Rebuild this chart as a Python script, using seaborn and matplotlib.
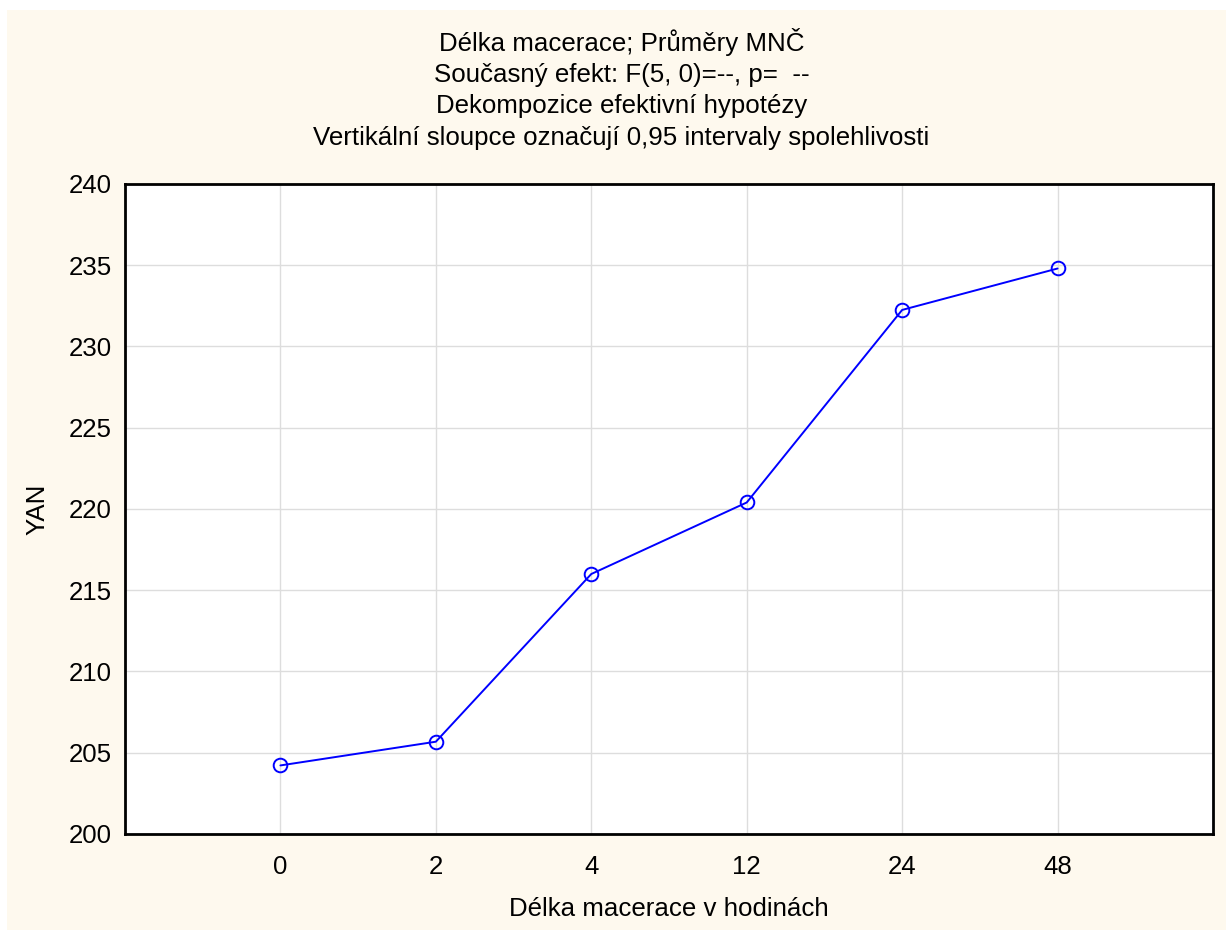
import matplotlib
matplotlib.use("Agg")
import matplotlib.pyplot as plt
from matplotlib.patches import Rectangle
import seaborn as sns
import pandas as pd

# Maceration time categories (hours) and least-squares means of YAN
hours = ["0", "2", "4", "12", "24", "48"]
yan_means = [204.22, 205.68, 216.0, 220.4, 232.25, 234.8]

title_lines = [
    "Délka macerace; Průměry MNČ",
    "Současný efekt: F(5, 0)=--, p=  --",
    "Dekompozice efektivní hypotézy",
    "Vertikální sloupce označují 0,95 intervaly spolehlivosti",
]
x_label = "Délka macerace v hodinách"
y_label = "YAN"
y_ticks = [200, 205, 210, 215, 220, 225, 230, 235, 240]

sns.set_theme(style="white")
plt.rcParams["font.family"] = ["Liberation Sans", "DejaVu Sans"]

FS = 18.6

df = pd.DataFrame({"hours": hours, "yan": yan_means})

fig = plt.figure(figsize=(12.26, 9.30), dpi=100, facecolor="white")
fig.patches.append(Rectangle((7 / 1226, 0), 1 - 7 / 1226, 1 - 10 / 930,
                             transform=fig.transFigure, facecolor="#FEF9EE",
                             edgecolor="none", zorder=-10))

ax = fig.add_axes([125 / 1226, 1 - 834 / 930, (1213 - 125) / 1226, (834 - 184) / 930])
ax.set_facecolor("white")

sns.lineplot(data=df, x="hours", y="yan", sort=False, ax=ax,
             color="#0000FF", linewidth=1.4, marker="o", markersize=9.8,
             markerfacecolor="none", markeredgecolor="#0000FF",
             markeredgewidth=1.4, zorder=5)

ax.set_xlim(-1, 6)
ax.set_ylim(200, 240)
ax.set_yticks(y_ticks)
ax.set_xticks(range(len(hours)))
ax.set_xticklabels(hours)

ax.grid(True, color="#DDDDDD", linewidth=1.0)
ax.set_axisbelow(True)
for s in ax.spines.values():
    s.set_visible(True)
    s.set_color("black")
    s.set_linewidth(2.0)

ax.tick_params(axis="both", direction="in", length=5, width=1.2, color="black",
               labelsize=FS, labelcolor="black")
ax.tick_params(axis="x", pad=15)
ax.tick_params(axis="y", pad=9.5)

ax.set_xlabel(x_label, fontsize=FS, color="black", labelpad=13)
ax.set_ylabel(y_label, fontsize=FS, color="black", labelpad=14)

fig.text(0.507, 1 - 28 / 930, "\n".join(title_lines), ha="center", va="top",
         fontsize=FS, color="black", linespacing=1.38)

fig.savefig("out.png", dpi=100, facecolor=fig.get_facecolor())
